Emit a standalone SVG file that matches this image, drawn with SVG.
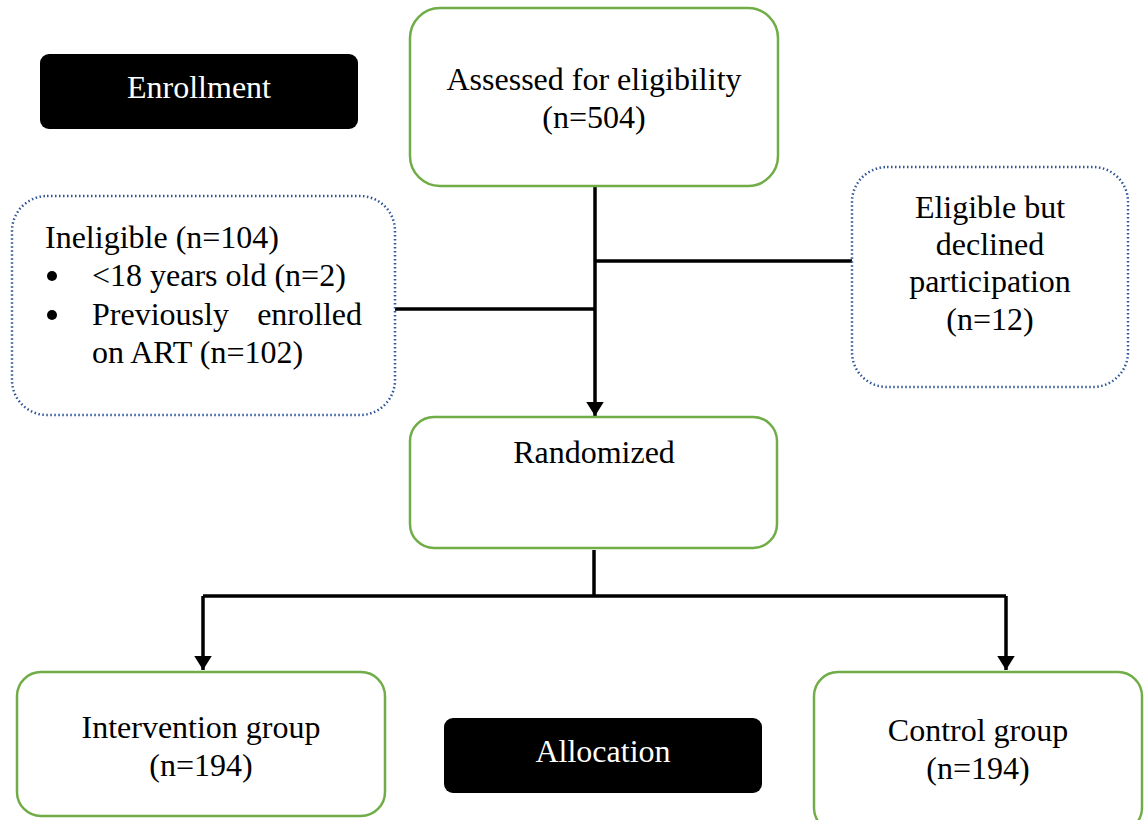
<svg xmlns="http://www.w3.org/2000/svg" width="1144" height="820" viewBox="0 0 1144 820">
<style>
.g{fill:#fff;stroke:#70AD47;stroke-width:2.5}
.d{fill:#fff;stroke:#2F5597;stroke-width:2.5;stroke-dasharray:1.5 2.5}
.b{fill:#000}
.t{font-family:"Liberation Serif","Times New Roman",serif;font-size:32px;fill:#000}
.w{fill:#fff}
.c{text-anchor:middle}
.ln{stroke:#000;stroke-width:3.5;fill:none}
</style>
<defs>
<marker id="ah" markerWidth="5" markerHeight="5" refX="4" refY="2.5" orient="auto" markerUnits="strokeWidth">
<path d="M0,0 L4,2.5 L0,5 Z" fill="#000"/>
</marker>
</defs>
<g id="connectors">
<path class="ln" d="M595,186 V416" marker-end="url(#ah)"/>
<path class="ln" d="M595,261 H852"/>
<path class="ln" d="M395,309 H595"/>
<path class="ln" d="M594,550 V596"/>
<path class="ln" d="M203,596 H1006"/>
<path class="ln" d="M203,596 V670" marker-end="url(#ah)"/>
<path class="ln" d="M1006,596 V670" marker-end="url(#ah)"/>
</g>
<g id="enrollment">
<rect class="b" x="40" y="54" width="318" height="75" rx="9"/>
<text class="t w c" x="199" y="98">Enrollment</text>
</g>
<g id="assessed">
<rect class="g" x="410" y="8" width="368" height="178" rx="30"/>
<text class="t c" x="594" y="90">Assessed for eligibility</text>
<text class="t c" x="594" y="128">(n=504)</text>
</g>
<g id="ineligible">
<rect class="d" x="12" y="196" width="383" height="219" rx="35"/>
<text class="t" x="45" y="248">Ineligible (n=104)</text>
<circle cx="52" cy="276" r="5" fill="#000"/>
<text class="t" x="92" y="286">&lt;18 years old (n=2)</text>
<circle cx="52" cy="315" r="5" fill="#000"/>
<text class="t" x="92" y="325">Previously</text>
<text class="t" x="362" y="325" text-anchor="end">enrolled</text>
<text class="t" x="92" y="363">on ART (n=102)</text>
</g>
<g id="declined">
<rect class="d" x="852" y="167" width="276" height="220" rx="35"/>
<text class="t c" x="990" y="218">Eligible but</text>
<text class="t c" x="990" y="255">declined</text>
<text class="t c" x="990" y="292">participation</text>
<text class="t c" x="990" y="330">(n=12)</text>
</g>
<g id="randomized">
<rect class="g" x="410" y="417" width="367" height="131" rx="24"/>
<text class="t c" x="594" y="463">Randomized</text>
</g>
<g id="intervention">
<rect class="g" x="17" y="672" width="368" height="144" rx="24"/>
<text class="t c" x="201" y="738">Intervention group</text>
<text class="t c" x="201" y="776">(n=194)</text>
</g>
<g id="allocation">
<rect class="b" x="444" y="718" width="318" height="75" rx="9"/>
<text class="t w c" x="603" y="762">Allocation</text>
</g>
<g id="control">
<rect class="g" x="814" y="672" width="328" height="160" rx="24"/>
<text class="t c" x="978" y="741">Control group</text>
<text class="t c" x="978" y="779">(n=194)</text>
</g>
</svg>
